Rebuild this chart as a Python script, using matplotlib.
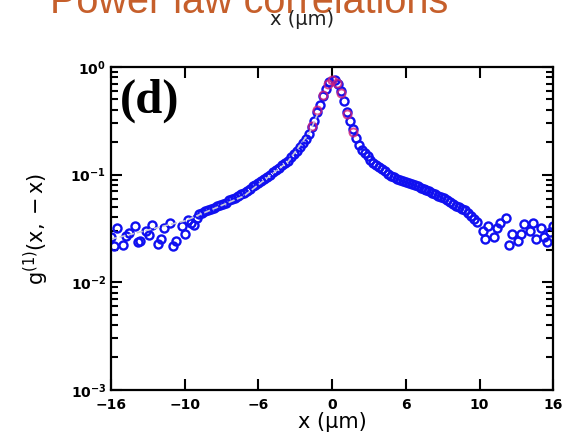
import numpy as np
import matplotlib
matplotlib.use('Agg')
import matplotlib.pyplot as plt
from matplotlib.ticker import LogLocator, NullFormatter

# g1(x,-x) measured on both sides of the centre (log10 values)
x_left = [-15.0, -14.6, -14.2, -13.8, -13.4, -13.0, -12.6, -12.2, -11.8, -11.4,
          -11.0, -10.6, -10.2, -9.8, -9.4, -9.0, -8.6, -8.2, -7.8, -7.4,
          -7.0, -6.6, -6.2, -5.8, -5.4, -5.0, -4.6, -4.2, -3.8, -3.4,
          -3.0, -2.6, -2.2, -1.8, -1.4, -1.0, -0.6, -0.2]
lg_left = [-1.58, -1.50, -1.65, -1.54, -1.48, -1.62, -1.52, -1.47, -1.64, -1.50,
           -1.45, -1.62, -1.48, -1.42, -1.47, -1.37, -1.34, -1.32, -1.29, -1.27,
           -1.24, -1.22, -1.18, -1.15, -1.11, -1.08, -1.04, -1.00, -0.96, -0.91,
           -0.87, -0.81, -0.74, -0.67, -0.56, -0.42, -0.27, -0.14]
# interleaved points between the ones above
x_left2 = [-14.8, -14.0, -13.2, -12.4, -11.6, -10.8, -10.0, -9.6,
           -9.2, -8.8, -8.4, -8.0, -7.6, -7.2, -6.8, -6.4, -6.0, -5.6,
           -5.2, -4.8, -4.4, -4.0, -3.6, -3.2, -2.8, -2.4, -2.0, -1.6,
           -1.2, -0.8, -0.4]
lg_left2 = [-1.66, -1.57, -1.63, -1.56, -1.60, -1.66, -1.55, -1.45,
            -1.40, -1.36, -1.33, -1.31, -1.28, -1.26, -1.23, -1.20, -1.17, -1.13,
            -1.10, -1.06, -1.02, -0.98, -0.94, -0.89, -0.84, -0.78, -0.71, -0.62,
            -0.50, -0.35, -0.20]

x_right = [0.2, 0.6, 1.0, 1.4, 1.8, 2.2, 2.6, 3.0, 3.4, 3.8,
           4.2, 4.6, 5.0, 5.4, 5.8, 6.2, 6.6, 7.0, 7.4, 7.8,
           8.2, 8.6, 9.0, 9.4, 9.8, 10.2, 10.6, 11.0, 11.4, 11.8,
           12.2, 12.6, 13.0, 13.4, 13.8, 14.2, 14.6, 15.0]
lg_right = [-0.12, -0.22, -0.42, -0.58, -0.72, -0.80, -0.86, -0.91, -0.95, -0.99,
            -1.02, -1.05, -1.07, -1.09, -1.11, -1.13, -1.15, -1.18, -1.21, -1.24,
            -1.27, -1.30, -1.33, -1.38, -1.44, -1.52, -1.48, -1.58, -1.45, -1.40,
            -1.55, -1.62, -1.46, -1.52, -1.60, -1.50, -1.63, -1.48]
x_right2 = [0.4, 0.8, 1.2, 1.6, 2.0, 2.4, 2.8, 3.2, 3.6, 4.0,
            4.4, 4.8, 5.2, 5.6, 6.0, 6.4, 6.8, 7.2, 7.6, 8.0,
            8.4, 8.8, 9.2, 9.6, 10.4, 11.2, 12.0, 12.8, 13.6, 14.4, 14.8]
lg_right2 = [-0.16, -0.32, -0.50, -0.66, -0.77, -0.83, -0.89, -0.93, -0.97, -1.01,
             -1.04, -1.06, -1.08, -1.10, -1.12, -1.14, -1.17, -1.20, -1.22, -1.25,
             -1.29, -1.32, -1.36, -1.41, -1.60, -1.50, -1.65, -1.55, -1.45, -1.58, -1.53]

# central points of the second data set
x_core = [-1.4, -1.0, -0.6, -0.3, 0.0, 0.3, 0.6, 1.0, 1.4]
lg_core = [-0.55, -0.40, -0.26, -0.16, -0.12, -0.15, -0.24, -0.44, -0.60]

# power-law guide line
x_fit = [-15.0, -10.0, -6.0, -3.0, -1.5, -1.0]
lg_fit = [-1.60, -1.43, -1.20, -0.88, -0.60, -0.44]

xticks = [-15, -10, -5, 0, 5, 10, 15]
xticklabels = ['\u221216', '\u221210', '\u22126', '0', '6', '10', '16']

fig = plt.figure(figsize=(5.62, 4.44), dpi=100)
ax = fig.add_axes([0.1975, 0.122, 0.787, 0.727])

blue = '#1010f0'
ms = 5.8
for xs, ls in [(x_left, lg_left), (x_left2, lg_left2), (x_right, lg_right), (x_right2, lg_right2)]:
    ax.plot(xs, 10 ** np.array(ls), 'o', mfc='none', mec=blue, mew=1.7, ms=ms)
ax.plot(x_core, 10 ** np.array(lg_core), 'o', mfc='none', mec='#d0207a', mew=1.4, ms=ms, alpha=0.8)
ax.plot(x_fit, 10 ** np.array(lg_fit), '--', color='#c8c8d8', lw=1.2)

ax.set_yscale('log')
ax.set_xlim(-15, 15)
ax.set_ylim(1e-3, 1e0)
ax.set_xticks(xticks)
ax.set_xticklabels(xticklabels, fontsize=10, fontweight='bold')
ax.yaxis.set_major_locator(LogLocator(base=10, numticks=5))
ax.yaxis.set_minor_locator(LogLocator(base=10, subs=np.arange(2, 10), numticks=10))
ax.yaxis.set_minor_formatter(NullFormatter())
ax.tick_params(which='both', direction='in', top=True, right=True, width=1.5)
ax.tick_params(which='major', length=8, labelsize=10)
ax.tick_params(axis='x', pad=6)
ax.tick_params(which='minor', length=5)
for lab in ax.get_yticklabels():
    lab.set_fontweight('bold')
for s in ax.spines.values():
    s.set_linewidth(1.6)

ax.set_xlabel('x (\u03bcm)', fontsize=15, labelpad=0)
ax.set_ylabel('$\\mathrm{g^{(1)}(x,-x)}$', fontsize=15, labelpad=14)
ax.text(0.02, 0.965, '(d)', transform=ax.transAxes, ha='left', va='top',
        fontsize=35, fontweight='bold', family='Liberation Serif')

# slide title and the axis label of the panel above
fig.text(0.089, 0.971, 'Power law correlations', ha='left', va='baseline',
         fontsize=28.5, color='#c65f2b', family='Liberation Sans')
fig.text(0.537, 0.955, 'x (\u03bcm)', ha='center', va='center', fontsize=14,
         color='#202020')

fig.savefig('out.png', dpi=100)
